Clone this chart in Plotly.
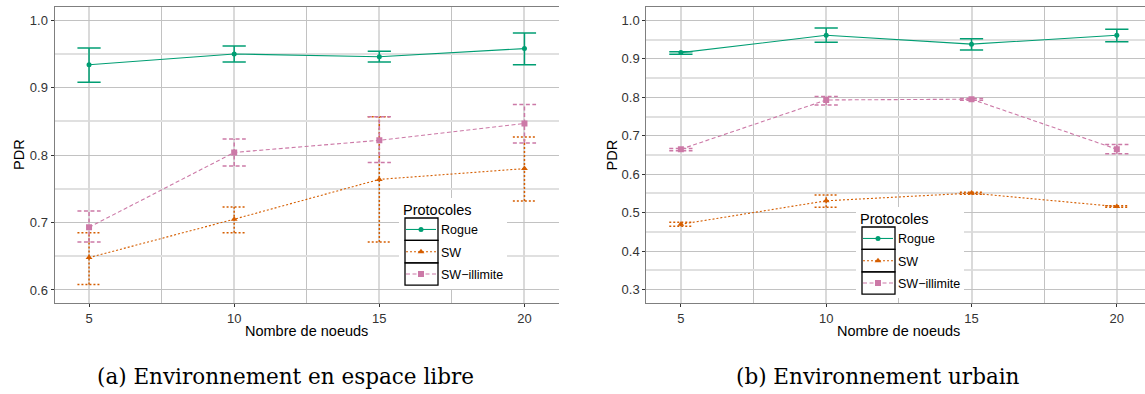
import plotly.graph_objects as go

# ---------------- data ----------------
nodes = [5, 10, 15, 20]
protocols = ["Rogue", "SW", "SW\u2212illimite"]

# (a) Environnement en espace libre
rogue_a = [0.934, 0.950, 0.946, 0.958]
rogue_a_lo = [0.908, 0.938, 0.938, 0.934]
rogue_a_hi = [0.959, 0.962, 0.954, 0.981]
sw_a = [0.648, 0.705, 0.764, 0.780]
sw_a_lo = [0.608, 0.685, 0.671, 0.732]
sw_a_hi = [0.685, 0.723, 0.857, 0.827]
swi_a = [0.693, 0.804, 0.822, 0.847]
swi_a_lo = [0.671, 0.784, 0.789, 0.818]
swi_a_hi = [0.717, 0.824, 0.857, 0.875]

# (b) Environnement urbain
rogue_b = [0.916, 0.961, 0.938, 0.961]
rogue_b_lo = [0.912, 0.943, 0.923, 0.944]
rogue_b_hi = [0.918, 0.980, 0.952, 0.977]
sw_b = [0.470, 0.531, 0.551, 0.516]
sw_b_lo = [0.465, 0.514, 0.548, 0.514]
sw_b_hi = [0.475, 0.546, 0.553, 0.518]
swi_b = [0.665, 0.793, 0.795, 0.665]
swi_b_lo = [0.661, 0.780, 0.792, 0.653]
swi_b_hi = [0.667, 0.802, 0.797, 0.677]

x_title = "Nombre de noeuds"
y_title = "PDR"
captions = ["(a) Environnement en espace libre", "(b) Environnement urbain"]
legend_title = "Protocoles"

# ---------------- style ----------------
colors = {"Rogue": "#009E73", "SW": "#D55E00", "SW\u2212illimite": "#CC79A7"}
dashes = {"Rogue": "solid", "SW": "2px,2px", "SW\u2212illimite": "4px,2.5px"}
symbols = {"Rogue": "circle", "SW": "triangle-up", "SW\u2212illimite": "square"}
msize = {"Rogue": 5, "SW": 6, "SW\u2212illimite": 6}
CAP = 0.4
W, H = 1145, 394
T, B = 7, 91
PH = H - T - B


def py(p):
    return (H - B - p) / PH


def px(p):
    return p / W


def errbar(xs, lo, hi, w=CAP):
    X, Y = [], []
    for x, l, h in zip(xs, lo, hi):
        X += [x - w, x + w, None, x, x, None, x - w, x + w, None]
        Y += [h, h, None, l, h, None, l, l, None]
    return X, Y


fig = go.Figure()

panels = [
    ("x", "y", "legend", [(rogue_a, rogue_a_lo, rogue_a_hi), (sw_a, sw_a_lo, sw_a_hi), (swi_a, swi_a_lo, swi_a_hi)]),
    ("x2", "y2", "legend2", [(rogue_b, rogue_b_lo, rogue_b_hi), (sw_b, sw_b_lo, sw_b_hi), (swi_b, swi_b_lo, swi_b_hi)]),
]

for xa, ya, leg, series in panels:
    for name, (vals, lo, hi) in zip(protocols, series):
        ex, ey = errbar(nodes, lo, hi)
        fig.add_trace(go.Scatter(
            x=ex, y=ey, mode="lines", xaxis=xa, yaxis=ya, showlegend=False,
            line=dict(color=colors[name], width=1.5, dash=dashes[name]), hoverinfo="skip"))
    for name, (vals, lo, hi) in zip(protocols, series):
        fig.add_trace(go.Scatter(
            x=nodes, y=vals, mode="lines+markers", name=name, xaxis=xa, yaxis=ya,
            legend=leg, legendgroup=leg + name, showlegend=True,
            line=dict(color=colors[name], width=1.1, dash=dashes[name]),
            marker=dict(symbol=symbols[name], size=msize[name], color=colors[name])))

tickfont = dict(family="Liberation Sans, Arial", size=13, color="#333333")
common_x = dict(
    tickvals=nodes, ticks="outside", ticklen=3, tickcolor="#333333", tickfont=tickfont,
    showline=True, linecolor="#7f7f7f", linewidth=1, mirror=True, automargin=False,
    showgrid=True, gridcolor="#dadada", gridwidth=2,
    minor=dict(dtick=2.5, tick0=0, showgrid=True, gridcolor="#c2c2c2", gridwidth=1),
    zeroline=False)
common_y = dict(
    dtick=0.1, tick0=0, tickformat=".1f", ticks="outside", ticklen=3, tickcolor="#333333",
    tickfont=tickfont, showline=True, linecolor="#7f7f7f", linewidth=1, automargin=False,
    showgrid=True, gridcolor="#c2c2c2", gridwidth=1,
    minor=dict(dtick=0.05, tick0=0, showgrid=True, gridcolor="#e0e0e0", gridwidth=2),
    zeroline=False)

L1, R1 = 54.5, 559
L2 = 646.3

legend_common = dict(
    bgcolor="rgba(0,0,0,0)", borderwidth=0, tracegroupgap=3, itemwidth=30,
    font=dict(family="Liberation Sans, Arial", size=12.5, color="#000000"),
    title=dict(text=legend_title, font=dict(family="Liberation Sans, Arial", size=14.5, color="#000000")),
    xanchor="left", yanchor="top", traceorder="grouped", itemclick=False)

LEG1_X, LEG1_Y = 401, 196
LEG2_X, LEG2_Y = 858, 205

# legend backgrounds and key boxes (ggplot-like legend keys)
shapes = []
for lx, ly in [(LEG1_X, LEG1_Y), (LEG2_X, LEG2_Y)]:
    shapes.append(dict(type="rect", xref="paper", yref="paper", layer="above",
                       x0=px(lx - 2), x1=px(lx + 106), y0=py(ly + 2), y1=py(ly + 93),
                       fillcolor="white", line=dict(width=0)))
    top = ly + 22
    for k in range(len(protocols)):
        shapes.append(dict(type="rect", xref="paper", yref="paper", layer="above",
                           x0=px(lx + 4), x1=px(lx + 37),
                           y0=py(top + 22.4 * k), y1=py(top + 22.4 * (k + 1)),
                           fillcolor="rgba(0,0,0,0)", line=dict(color="#000000", width=1.3)))

fig.update_layout(
    width=W, height=H, plot_bgcolor="white", paper_bgcolor="white",
    margin=dict(l=0, r=0, t=T, b=B, autoexpand=False),
    xaxis=dict(domain=[L1 / W, R1 / W], range=[3.81, 21.19], anchor="y", **common_x),
    yaxis=dict(domain=[0, 1], range=[0.5807, 1.0197], anchor="x", **common_y),
    xaxis2=dict(domain=[L2 / W, 1.0], range=[3.81, 20.97], anchor="y2", **common_x),
    yaxis2=dict(domain=[0, 1], range=[0.2655, 1.0345], anchor="x2", **{**common_y, "mirror": False}),
    legend=dict(x=px(LEG1_X), y=py(LEG1_Y), **legend_common),
    legend2=dict(x=px(LEG2_X), y=py(LEG2_Y), **legend_common),
    showlegend=True,
    shapes=shapes,
)

annots = []
axfont = dict(family="Liberation Sans, Arial", size=14.5, color="#000000")
for cx in [(L1 + R1) / 2, 898.5]:
    annots.append(dict(text=x_title, x=px(cx), y=py(331), xref="paper", yref="paper",
                       showarrow=False, xanchor="center", yanchor="middle", font=axfont))
for cx in [19, 611.5]:
    annots.append(dict(text=y_title, x=px(cx), y=py(155), xref="paper", yref="paper",
                       showarrow=False, xanchor="center", yanchor="middle", textangle=-90, font=axfont))
capfont = dict(family="DejaVu Serif", size=21.5, color="#000000")
for cx, txt in zip([285.5, 877.5], captions):
    annots.append(dict(text=txt, x=px(cx), y=py(376.6), xref="paper", yref="paper",
                       showarrow=False, xanchor="center", yanchor="middle", font=capfont))
fig.update_layout(annotations=annots)

fig.write_html("out.html", config={"displayModeBar": False},
               post_script="document.body.style.margin='0';")
